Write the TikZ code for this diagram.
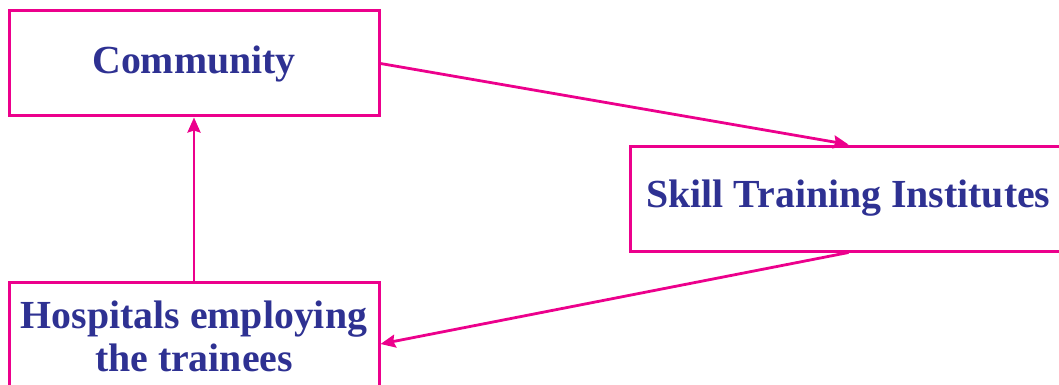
\documentclass[tikz,border=0pt]{standalone}
\usepackage{fontspec}
\setmainfont{Liberation Serif}
\usetikzlibrary{arrows.meta}
\definecolor{boxpink}{HTML}{EC008C}
\definecolor{textblue}{HTML}{2E3192}
\begin{document}
\begin{tikzpicture}[x=1pt,y=-1pt,
  box/.style={draw=boxpink, line width=3pt, text=textblue, align=center,
    font=\fontsize{39.8}{43}\selectfont\bfseries, inner sep=0pt},
  conn/.style={draw=boxpink, line width=2.8pt, -{Stealth[length=15pt,width=13pt,inset=2pt]}}]
\useasboundingbox (0,0) rectangle (1059,385);
\clip (0,0) rectangle (1059,385);
\node[box, minimum width=370pt, minimum height=105pt] (comm) at (194,63.5) {Community};
\node[box, minimum width=437pt, minimum height=105pt] (sti) at (848.5,198.5) {Skill Training Institutes};
\node[box, minimum width=370pt, minimum height=108pt] (hosp) at (194,336) {Hospitals employing\\the trainees};
\draw[conn] (comm.east) -- (sti.north);
\draw[conn] (sti.south) -- ([yshift=-8pt]hosp.east);
\draw[conn] (hosp.north) -- (comm.south);
\end{tikzpicture}
\end{document}
